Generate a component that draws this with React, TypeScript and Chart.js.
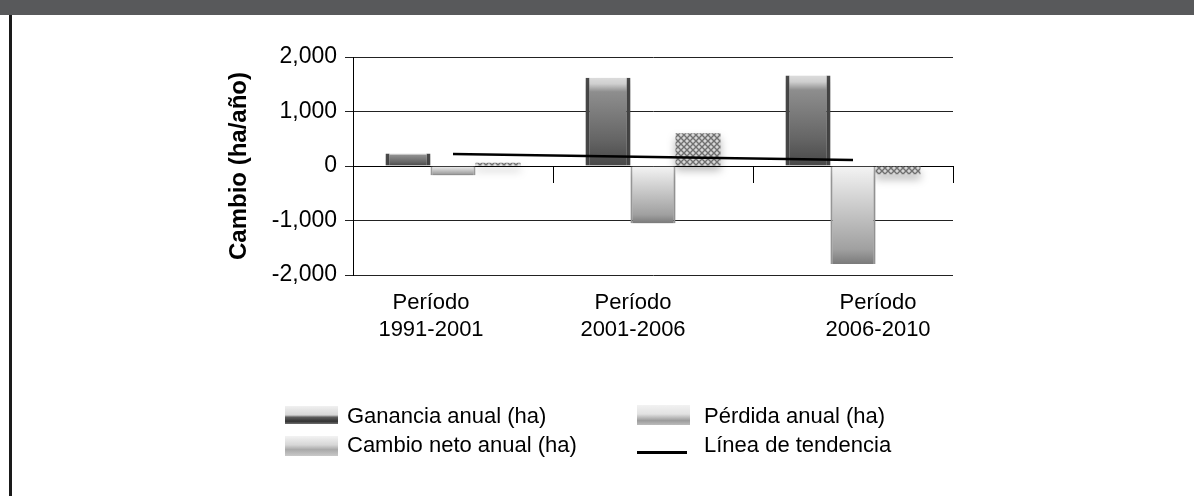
import React, { useEffect, useRef } from 'react';
import { Chart, registerables } from 'chart.js';

Chart.register(...registerables);

// ---- data ----
const CATEGORIES = [
  ['Período', '1991-2001'],
  ['Período', '2001-2006'],
  ['Período', '2006-2010'],
];
const GAIN = [230, 1620, 1660];
const LOSS = [-170, -1050, -1800];
const NET = [60, 600, -150];
const TREND = [220, 165, 110];
const Y_TICKS = [-2000, -1000, 0, 1000, 2000];
const SERIES_NAMES = [
  'Ganancia anual (ha)',
  'Pérdida anual (ha)',
  'Cambio neto anual (ha)',
  'Línea de tendencia',
];
const Y_TITLE = 'Cambio (ha/año)';

// ---- style ----
const FONT = '"Liberation Sans", Arial, Helvetica, sans-serif';
const LABEL_SHIFT = [-22, -20, 25];

export default function App() {
  const ref = useRef<HTMLCanvasElement>(null);

  useEffect(() => {
    const canvas = ref.current!;
    Chart.defaults.font.family = FONT;
    Chart.defaults.color = '#000';

    const tile = document.createElement('canvas');
    tile.width = 6;
    tile.height = 6;
    const tc = tile.getContext('2d')!;
    tc.fillStyle = '#d6d6d6';
    tc.fillRect(0, 0, 6, 6);
    tc.strokeStyle = '#707070';
    tc.lineWidth = 1.4;
    tc.beginPath();
    tc.moveTo(0, 0);
    tc.lineTo(6, 6);
    tc.moveTo(6, 0);
    tc.lineTo(0, 6);
    tc.stroke();
    const pattern = canvas.getContext('2d')!.createPattern(tile, 'repeat');

    const grad = (stops: [number, string][]) => (c: any) => {
      const chart = c.chart;
      const ys = chart.scales && chart.scales.y;
      const fallback = stops[Math.floor(stops.length / 2)][1];
      if (!chart.chartArea || !ys || typeof c.raw !== 'number') return fallback;
      const y0 = ys.getPixelForValue(0);
      const y1 = ys.getPixelForValue(c.raw);
      if (Math.abs(y1 - y0) < 1) return fallback;
      const g = chart.ctx.createLinearGradient(0, Math.min(y0, y1), 0, Math.max(y0, y1));
      stops.forEach(([o, col]) => g.addColorStop(o, col));
      return g;
    };

    const gainStops: [number, string][] = [
      [0, '#dcdcdc'],
      [0.07, '#cfcfcf'],
      [0.16, '#8e8e8e'],
      [0.7, '#656565'],
      [1, '#474747'],
    ];
    const lossStops: [number, string][] = [
      [0, '#f4f4f4'],
      [0.3, '#d6d6d6'],
      [0.85, '#a0a0a0'],
      [1, '#7a7a7a'],
    ];

    const shadowPlugin = {
      id: 'barShadow',
      beforeDatasetDraw(chart: any, args: any) {
        if (args.meta.type === 'bar') {
          const ctx = chart.ctx;
          ctx.save();
          ctx.shadowColor = 'rgba(0,0,0,0.28)';
          ctx.shadowBlur = 9;
          ctx.shadowOffsetY = 5;
        }
      },
      afterDatasetDraw(chart: any, args: any) {
        if (args.meta.type === 'bar') chart.ctx.restore();
      },
    };

    const labelAxis = (k: number) => ({
      type: 'category',
      position: { y: Y_TICKS[0] },
      offset: true,
      grid: { display: false, drawTicks: false },
      border: { display: false },
      ticks: {
        padding: 15,
        labelOffset: LABEL_SHIFT[k],
        autoSkip: false,
        maxRotation: 0,
        color: '#000',
        font: { size: 22, lineHeight: 1.2 },
        callback: function (this: any, v: any, i: number) {
          return i === k ? this.getLabelForValue(v) : '';
        },
      },
    });

    const chart = new Chart(canvas, {
      type: 'bar',
      data: {
        labels: CATEGORIES as any,
        datasets: [
          {
            type: 'line',
            label: SERIES_NAMES[3],
            data: TREND,
            borderColor: '#000',
            borderWidth: 2.5,
            pointRadius: 0,
            fill: false,
            order: 0,
          } as any,
          {
            label: SERIES_NAMES[0],
            data: GAIN,
            backgroundColor: grad(gainStops),
            borderColor: '#4a4a4a',
            borderWidth: { left: 4, right: 4, top: 0, bottom: 0 },
            borderSkipped: false,
            order: 1,
          },
          {
            label: SERIES_NAMES[1],
            data: LOSS,
            backgroundColor: grad(lossStops),
            borderColor: '#a4a4a4',
            borderWidth: { left: 2, right: 2, top: 0, bottom: 0 },
            borderSkipped: false,
            order: 1,
          },
          {
            label: SERIES_NAMES[2],
            data: NET,
            backgroundColor: pattern as any,
            order: 1,
          },
        ],
      },
      options: {
        responsive: false,
        maintainAspectRatio: false,
        animation: false,
        layout: { padding: { left: 222, right: 241, top: 42, bottom: 221 } },
        plugins: { legend: { display: false }, tooltip: { enabled: false } },
        datasets: { bar: { categoryPercentage: 0.675, barPercentage: 1 } },
        scales: {
          x: {
            type: 'category',
            position: { y: 0 } as any,
            offset: true,
            ticks: { display: false },
            grid: {
              drawOnChartArea: false,
              drawTicks: true,
              tickLength: 16,
              color: '#000',
              offset: true,
            },
            border: { display: true, color: '#000', width: 1 },
          },
          xl0: labelAxis(0) as any,
          xl1: labelAxis(1) as any,
          xl2: labelAxis(2) as any,
          y: {
            min: Y_TICKS[0],
            max: Y_TICKS[Y_TICKS.length - 1],
            ticks: {
              stepSize: Y_TICKS[1] - Y_TICKS[0],
              padding: 8,
              color: '#000',
              font: { size: 23 },
              callback: (v: any) => Number(v).toLocaleString('en-US'),
            },
            grid: { color: '#222', lineWidth: 1, tickLength: 8, drawTicks: true },
            border: { display: true, color: '#000', width: 1 },
            title: {
              display: true,
              text: Y_TITLE,
              color: '#000',
              font: { size: 24, weight: 'bold' },
              padding: { top: 3, bottom: 3 },
            },
            afterFit: (s: any) => {
              s.width = 131;
            },
          },
        },
      },
      plugins: [shadowPlugin],
    } as any);

    return () => chart.destroy();
  }, []);

  const text = (left: number, center: number, label: string) => (
    <div
      style={{
        position: 'absolute',
        left,
        top: center - 13,
        height: 26,
        lineHeight: '26px',
        fontSize: 22,
        fontFamily: FONT,
        color: '#000',
        whiteSpace: 'nowrap',
      }}
    >
      {label}
    </div>
  );

  return (
    <div
      style={{
        position: 'absolute',
        left: 0,
        top: 0,
        width: 1194,
        height: 496,
        background: '#fff',
        overflow: 'hidden',
      }}
    >
      <div style={{ position: 'absolute', left: 0, top: 0, width: 1194, height: 15, background: '#58595b' }} />
      <canvas
        ref={ref}
        width={1194}
        height={481}
        style={{ position: 'absolute', left: 0, top: 15, width: 1194, height: 481 }}
      />
      <div style={{ position: 'absolute', left: 9, top: 15, width: 3, height: 481, background: '#1a1a1a' }} />

      {/* legend */}
      <div
        style={{
          position: 'absolute',
          left: 285,
          top: 406,
          width: 53,
          height: 18,
          background:
            'linear-gradient(to bottom, rgba(225,225,225,0.5) 0%, rgba(205,205,205,0.8) 50%, #5e5e5e 62%, #333 85%, #6e6e6e 100%)',
        }}
      />
      {text(347, 416, SERIES_NAMES[0])}
      <div
        style={{
          position: 'absolute',
          left: 285,
          top: 436,
          width: 53,
          height: 20,
          background:
            'linear-gradient(to bottom, rgba(235,235,235,0.6) 0%, #d6d6d6 45%, #a9a9a9 68%, #c9c9c9 100%)',
        }}
      />
      {text(347, 445, SERIES_NAMES[2])}
      <div
        style={{
          position: 'absolute',
          left: 637,
          top: 405,
          width: 53,
          height: 20,
          background:
            'linear-gradient(to bottom, #f2f2f2 0%, #e2e2e2 45%, #9c9c9c 78%, #bcbcbc 100%)',
        }}
      />
      {text(704, 416, SERIES_NAMES[1])}
      <div style={{ position: 'absolute', left: 637, top: 451, width: 50, height: 2.5, background: '#000' }} />
      {text(704, 445, SERIES_NAMES[3])}
    </div>
  );
}
